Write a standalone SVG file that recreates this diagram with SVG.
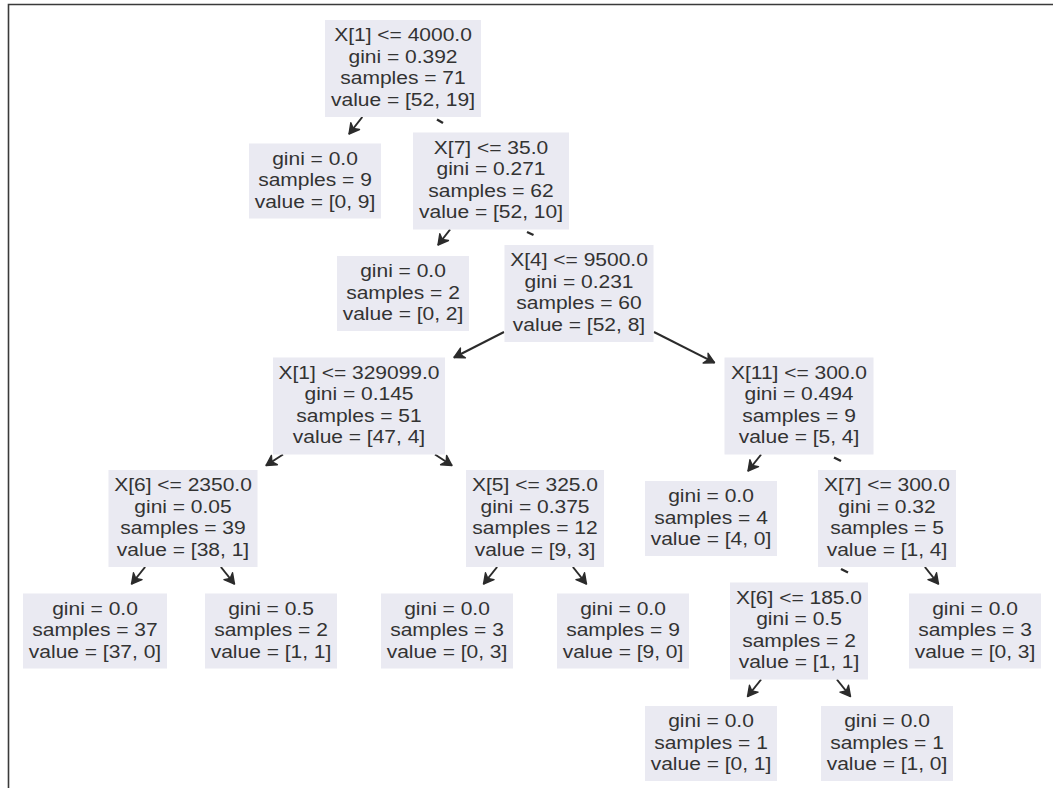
<svg xmlns="http://www.w3.org/2000/svg" width="1053" height="788" viewBox="0 0 1053 788">
<defs>
<style>
.box{fill:#eaeaf2}
.t{font-family:"Liberation Sans",Arial,sans-serif;font-size:18.5px;fill:#333333;text-anchor:middle}
.e{stroke:#2b2b2b;stroke-width:2;fill:none}
.m{stroke:#2b2b2b;stroke-width:2.4;fill:none}
.frame{stroke:#3a3a3a;stroke-width:1.6;fill:none}
</style>
<marker id="ah" markerUnits="userSpaceOnUse" markerWidth="16" markerHeight="16" viewBox="-12 -8 14 16" refX="0" refY="0" orient="auto">
<path d="M-10,-5.5 L0,0 L-10,5.5 L-7,0 Z" fill="#2b2b2b" stroke="#2b2b2b" stroke-width="1.4" stroke-linejoin="round"/>
</marker>
</defs>
<rect x="0" y="0" width="1053" height="788" fill="#ffffff"/>
<path class="frame" d="M8.5,788 V4.5 H1053"/>

<g id="connectors">
<line class="e" x1="362.3" y1="117" x2="349" y2="134" marker-end="url(#ah)"/>
<line class="m" x1="437" y1="119.5" x2="443" y2="123"/>
<line class="e" x1="450.1" y1="229.5" x2="438" y2="245" marker-end="url(#ah)"/>
<line class="m" x1="527" y1="232" x2="533.5" y2="235"/>
<line class="e" x1="504" y1="332" x2="454" y2="357.5" marker-end="url(#ah)"/>
<line class="e" x1="654" y1="332" x2="714.5" y2="362.7" marker-end="url(#ah)"/>
<line class="e" x1="283" y1="454.5" x2="266" y2="465.5" marker-end="url(#ah)"/>
<line class="e" x1="435" y1="454.5" x2="452" y2="465.5" marker-end="url(#ah)"/>
<line class="e" x1="761.1" y1="454.5" x2="748" y2="471" marker-end="url(#ah)"/>
<line class="m" x1="834" y1="457.5" x2="841" y2="461"/>
<line class="e" x1="145.1" y1="567" x2="131.5" y2="584" marker-end="url(#ah)"/>
<line class="e" x1="220.9" y1="567" x2="234.5" y2="584" marker-end="url(#ah)"/>
<line class="e" x1="497.1" y1="567" x2="483.5" y2="584" marker-end="url(#ah)"/>
<line class="e" x1="572.9" y1="567" x2="586.5" y2="584" marker-end="url(#ah)"/>
<line class="m" x1="841" y1="569" x2="848" y2="572.5"/>
<line class="e" x1="924.9" y1="567" x2="938.5" y2="584" marker-end="url(#ah)"/>
<line class="e" x1="761.1" y1="679.5" x2="747.5" y2="696.5" marker-end="url(#ah)"/>
<line class="e" x1="836.9" y1="679.5" x2="850.5" y2="696.5" marker-end="url(#ah)"/>
</g>

<g id="n0">
<rect class="box" x="325" y="20" width="156" height="97"/>
<g transform="translate(403,0) scale(1.135,1)">
<text class="t" x="0" y="41.5">X[1] &lt;= 4000.0</text>
<text class="t" x="0" y="63">gini = 0.392</text>
<text class="t" x="0" y="84.5">samples = 71</text>
<text class="t" x="0" y="106">value = [52, 19]</text>
</g>
</g>

<g id="n1">
<rect class="box" x="249" y="143.5" width="132" height="75"/>
<g transform="translate(315,0) scale(1.135,1)">
<text class="t" x="0" y="164.8">gini = 0.0</text>
<text class="t" x="0" y="186.3">samples = 9</text>
<text class="t" x="0" y="207.8">value = [0, 9]</text>
</g>
</g>

<g id="n2">
<rect class="box" x="413" y="132.5" width="156" height="97"/>
<g transform="translate(491,0) scale(1.135,1)">
<text class="t" x="0" y="154">X[7] &lt;= 35.0</text>
<text class="t" x="0" y="175.5">gini = 0.271</text>
<text class="t" x="0" y="197">samples = 62</text>
<text class="t" x="0" y="218.5">value = [52, 10]</text>
</g>
</g>

<g id="n3">
<rect class="box" x="337" y="256" width="132" height="75"/>
<g transform="translate(403,0) scale(1.135,1)">
<text class="t" x="0" y="277.3">gini = 0.0</text>
<text class="t" x="0" y="298.8">samples = 2</text>
<text class="t" x="0" y="320.3">value = [0, 2]</text>
</g>
</g>

<g id="n4">
<rect class="box" x="504.5" y="245" width="149" height="97"/>
<g transform="translate(579,0) scale(1.135,1)">
<text class="t" x="0" y="266.5">X[4] &lt;= 9500.0</text>
<text class="t" x="0" y="288">gini = 0.231</text>
<text class="t" x="0" y="309.5">samples = 60</text>
<text class="t" x="0" y="331">value = [52, 8]</text>
</g>
</g>

<g id="n5">
<rect class="box" x="273" y="357.5" width="172" height="97"/>
<g transform="translate(359,0) scale(1.135,1)">
<text class="t" x="0" y="379">X[1] &lt;= 329099.0</text>
<text class="t" x="0" y="400.5">gini = 0.145</text>
<text class="t" x="0" y="422">samples = 51</text>
<text class="t" x="0" y="443.5">value = [47, 4]</text>
</g>
</g>

<g id="n6">
<rect class="box" x="724.5" y="357.5" width="149" height="97"/>
<g transform="translate(799,0) scale(1.135,1)">
<text class="t" x="0" y="379">X[11] &lt;= 300.0</text>
<text class="t" x="0" y="400.5">gini = 0.494</text>
<text class="t" x="0" y="422">samples = 9</text>
<text class="t" x="0" y="443.5">value = [5, 4]</text>
</g>
</g>

<g id="n7">
<rect class="box" x="108.5" y="470" width="149" height="97"/>
<g transform="translate(183,0) scale(1.135,1)">
<text class="t" x="0" y="491.5">X[6] &lt;= 2350.0</text>
<text class="t" x="0" y="513">gini = 0.05</text>
<text class="t" x="0" y="534.5">samples = 39</text>
<text class="t" x="0" y="556">value = [38, 1]</text>
</g>
</g>

<g id="n8">
<rect class="box" x="466" y="470" width="138" height="97"/>
<g transform="translate(535,0) scale(1.135,1)">
<text class="t" x="0" y="491.5">X[5] &lt;= 325.0</text>
<text class="t" x="0" y="513">gini = 0.375</text>
<text class="t" x="0" y="534.5">samples = 12</text>
<text class="t" x="0" y="556">value = [9, 3]</text>
</g>
</g>

<g id="n9">
<rect class="box" x="645" y="481" width="132" height="75"/>
<g transform="translate(711,0) scale(1.135,1)">
<text class="t" x="0" y="502.3">gini = 0.0</text>
<text class="t" x="0" y="523.8">samples = 4</text>
<text class="t" x="0" y="545.3">value = [4, 0]</text>
</g>
</g>

<g id="n10">
<rect class="box" x="818" y="470" width="138" height="97"/>
<g transform="translate(887,0) scale(1.135,1)">
<text class="t" x="0" y="491.5">X[7] &lt;= 300.0</text>
<text class="t" x="0" y="513">gini = 0.32</text>
<text class="t" x="0" y="534.5">samples = 5</text>
<text class="t" x="0" y="556">value = [1, 4]</text>
</g>
</g>

<g id="n11">
<rect class="box" x="23" y="593.5" width="144" height="75"/>
<g transform="translate(95,0) scale(1.135,1)">
<text class="t" x="0" y="614.8">gini = 0.0</text>
<text class="t" x="0" y="636.3">samples = 37</text>
<text class="t" x="0" y="657.8">value = [37, 0]</text>
</g>
</g>

<g id="n12">
<rect class="box" x="205" y="593.5" width="132" height="75"/>
<g transform="translate(271,0) scale(1.135,1)">
<text class="t" x="0" y="614.8">gini = 0.5</text>
<text class="t" x="0" y="636.3">samples = 2</text>
<text class="t" x="0" y="657.8">value = [1, 1]</text>
</g>
</g>

<g id="n13">
<rect class="box" x="381" y="593.5" width="132" height="75"/>
<g transform="translate(447,0) scale(1.135,1)">
<text class="t" x="0" y="614.8">gini = 0.0</text>
<text class="t" x="0" y="636.3">samples = 3</text>
<text class="t" x="0" y="657.8">value = [0, 3]</text>
</g>
</g>

<g id="n14">
<rect class="box" x="557" y="593.5" width="132" height="75"/>
<g transform="translate(623,0) scale(1.135,1)">
<text class="t" x="0" y="614.8">gini = 0.0</text>
<text class="t" x="0" y="636.3">samples = 9</text>
<text class="t" x="0" y="657.8">value = [9, 0]</text>
</g>
</g>

<g id="n15">
<rect class="box" x="730" y="582.5" width="138" height="97"/>
<g transform="translate(799,0) scale(1.135,1)">
<text class="t" x="0" y="604">X[6] &lt;= 185.0</text>
<text class="t" x="0" y="625.5">gini = 0.5</text>
<text class="t" x="0" y="647">samples = 2</text>
<text class="t" x="0" y="668.5">value = [1, 1]</text>
</g>
</g>

<g id="n16">
<rect class="box" x="909" y="593.5" width="132" height="75"/>
<g transform="translate(975,0) scale(1.135,1)">
<text class="t" x="0" y="614.8">gini = 0.0</text>
<text class="t" x="0" y="636.3">samples = 3</text>
<text class="t" x="0" y="657.8">value = [0, 3]</text>
</g>
</g>

<g id="n17">
<rect class="box" x="645" y="706" width="132" height="75"/>
<g transform="translate(711,0) scale(1.135,1)">
<text class="t" x="0" y="727.3">gini = 0.0</text>
<text class="t" x="0" y="748.8">samples = 1</text>
<text class="t" x="0" y="770.3">value = [0, 1]</text>
</g>
</g>

<g id="n18">
<rect class="box" x="821" y="706" width="132" height="75"/>
<g transform="translate(887,0) scale(1.135,1)">
<text class="t" x="0" y="727.3">gini = 0.0</text>
<text class="t" x="0" y="748.8">samples = 1</text>
<text class="t" x="0" y="770.3">value = [1, 0]</text>
</g>
</g>
</svg>
